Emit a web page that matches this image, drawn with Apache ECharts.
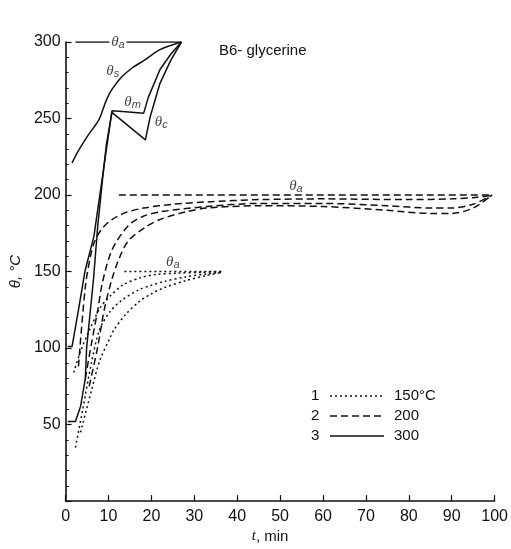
<!DOCTYPE html>
<html>
<head>
<meta charset="utf-8">
<script src="https://cdn.jsdelivr.net/npm/echarts@6/dist/echarts.min.js"></script>
<style>
  html, body { margin: 0; padding: 0; background: #fff; }
  #chart { width: 511px; height: 549px; }
</style>
</head>
<body>
<div id="chart"></div>
<script>
// t (min), theta (°C) pairs
// case 3 : 300 °C (solid)
const theta_a3 = [[2.3, 300], [10.2, 300], [12, '-'], [14.2, 300], [27, 300]];
const theta_s3 = [[1.5, 221], [3, 229], [5, 238], [7.5, 248], [8.2, 252], [9.5, 262], [10.8, 269], [13, 277], [15.5, 283], [18.3, 288], [22, 295], [27, 300]];
const theta_m3 = [[0.5, 101], [1.5, 101], [3, 125], [4.5, 150], [6.6, 173], [8.6, 212], [10.8, 255], [14, 254.5], [18.2, 253.5], [19.3, 264], [22, 282], [24.5, 292], [27, 300]];
const theta_c3 = [[0.5, 52], [2.3, 52], [3.5, 62], [4.6, 80], [4.9, 100], [6.5, 145], [7.5, 180], [8.6, 210], [9.5, 233], [10.8, 254], [18.6, 236], [19.7, 251], [22, 273], [24.5, 288], [27, 300]];

// case 2 : 200 °C (dashed)
const theta_a2 = [[12.4, 200], [99.4, 200]];
const theta_s2 = [[3, 88], [4.6, 140], [5.8, 160], [6.8, 170], [8.5, 178], [10.8, 184], [14, 188.5], [18.2, 191.5], [25, 194], [33, 195.5], [45, 197], [60, 197.5], [80, 197], [90, 197.5], [96, 198.5], [99.4, 200]];
const theta_m2 = [[4.6, 80], [5.9, 101], [7.5, 125], [8.6, 143], [10.8, 164], [14.6, 180], [18, 186], [22, 189], [33, 192.5], [45, 194.5], [60, 194.5], [75, 193], [85, 191.5], [90, 191.5], [95, 194], [99.4, 200]];
const theta_c2 = [[5.5, 75], [7.5, 101], [9, 125], [10.8, 145], [12.4, 158], [14.6, 170], [18.6, 179], [22, 184], [28, 189], [33, 191.5], [45, 193], [60, 192.5], [75, 190], [85, 188], [90, 188], [95, 191.5], [99.4, 200]];

// case 1 : 150 °C (dotted)
const theta_a1 = [[13.7, 150], [36.5, 150]];
const theta_s1 = [[1.9, 84], [3.5, 98], [5.6, 112], [8, 126], [10.4, 134], [13.5, 141.5], [17.5, 146], [21, 148], [26, 149], [32, 149.5], [36.5, 150]];
const theta_m1 = [[2.3, 35], [4, 60], [6, 90], [7.9, 112], [10.4, 124], [13, 131], [17, 138], [20, 141], [23, 143.5], [28, 146.5], [33, 148.5], [36.5, 149.5]];
const theta_c1 = [[3.5, 45], [6, 72], [8, 92], [10.4, 107], [11.3, 112], [14, 122], [17, 130], [20, 135.5], [23, 139.5], [28, 144], [33, 147.5], [36.5, 149.5]];

// curve labels: t, theta, subscript
const curveLabels = [
  [12.2, 300, 'a'],
  [11, 281, 's'],
  [15.6, 261, 'm'],
  [22.3, 248, 'c'],
  [53.7, 206, 'a'],
  [25, 156, 'a']
];

const legendRows = [
  ['1', 'dotted', '150°C'],
  ['2', 'dashed', '200'],
  ['3', 'solid', '300']
];

const ink = '#111';
const dashes = { solid: 'solid', dashed: [7, 4], dotted: [2, 3] };

function curve(data, style, smooth) {
  return {
    type: 'line',
    data: data,
    showSymbol: false,
    smooth: smooth,
    silent: true,
    lineStyle: { color: ink, width: 1.5, type: dashes[style] }
  };
}

const chart = echarts.init(document.getElementById('chart'));

const legendGraphics = [];
legendRows.forEach((row, i) => {
  const y = 396 + i * 20;
  legendGraphics.push({
    type: 'text', left: 311, top: y - 8,
    style: { text: row[0], fill: ink, font: '15px "Liberation Sans"' }
  });
  legendGraphics.push({
    type: 'line',
    shape: { x1: 330, y1: y, x2: 384, y2: y },
    style: { stroke: ink, lineWidth: 1.5, lineDash: row[1] === 'solid' ? null : dashes[row[1]] }
  });
  legendGraphics.push({
    type: 'text', left: 394, top: y - 8,
    style: { text: row[2], fill: ink, font: '15px "Liberation Sans"' }
  });
});

chart.setOption({
  backgroundColor: '#fff',
  animation: false,
  textStyle: { fontFamily: 'Liberation Sans', color: ink },
  title: {
    text: 'B6- glycerine',
    left: 214,
    top: 38,
    textStyle: { fontSize: 15, fontWeight: 'normal', color: ink, fontFamily: 'Liberation Sans' }
  },
  grid: { left: 51.5, right: 12, top: 42, bottom: 47 },
  xAxis: {
    type: 'value',
    min: 0,
    max: 100,
    interval: 10,
    name: '{i|t}, min',
    nameLocation: 'middle',
    nameGap: 27,
    nameTextStyle: {
      fontSize: 15, color: ink, padding: [0, 20, 0, 0],
      rich: { i: { fontStyle: 'italic', fontSize: 15, fontFamily: 'Liberation Serif' } }
    },
    axisLine: { lineStyle: { color: ink, width: 1.6 } },
    axisTick: { inside: true, length: 6, lineStyle: { color: ink, width: 1.2 } },
    axisLabel: { fontSize: 16, color: ink, margin: 7 },
    splitLine: { show: false }
  },
  yAxis: {
    type: 'value',
    min: 0,
    max: 300,
    interval: 50,
    name: 'θ, °C',
    nameLocation: 'middle',
    nameGap: 38,
    nameRotate: 90,
    nameTextStyle: { fontSize: 15, color: ink, fontStyle: 'italic' },
    axisLine: { show: true, lineStyle: { color: ink, width: 1.6 } },
    axisTick: { show: true, inside: true, length: 6, lineStyle: { color: ink, width: 1.2 } },
    minorTick: { show: true, splitNumber: 5, length: 3, lineStyle: { color: ink, width: 1 } },
    axisLabel: {
      fontSize: 16, color: ink, margin: 5,
      formatter: v => (v === 0 ? '' : String(v))
    },
    splitLine: { show: false }
  },
  graphic: legendGraphics,
  series: [
    curve(theta_a3, 'solid', false),
    curve(theta_s3, 'solid', 0.3),
    curve(theta_m3, 'solid', false),
    curve(theta_c3, 'solid', false),
    curve(theta_a2, 'dashed', false),
    curve(theta_s2, 'dashed', 0.3),
    curve(theta_m2, 'dashed', 0.3),
    curve(theta_c2, 'dashed', 0.3),
    curve(theta_a1, 'dotted', false),
    curve(theta_s1, 'dotted', 0.3),
    curve(theta_m1, 'dotted', 0.3),
    curve(theta_c1, 'dotted', 0.3),
    {
      type: 'scatter',
      symbolSize: 0,
      silent: true,
      data: curveLabels.map(d => ({ value: [d[0], d[1]], name: d[2] })),
      label: {
        show: true,
        position: 'inside',
        formatter: p => '{t|θ}{s|' + p.name + '}',
        rich: {
          t: { fontSize: 15, fontStyle: 'italic', color: ink, fontFamily: 'Liberation Serif' },
          s: { fontSize: 11, fontStyle: 'italic', color: ink, padding: [6, 0, 0, 0] }
        }
      }
    }
  ]
});
</script>
</body>
</html>
